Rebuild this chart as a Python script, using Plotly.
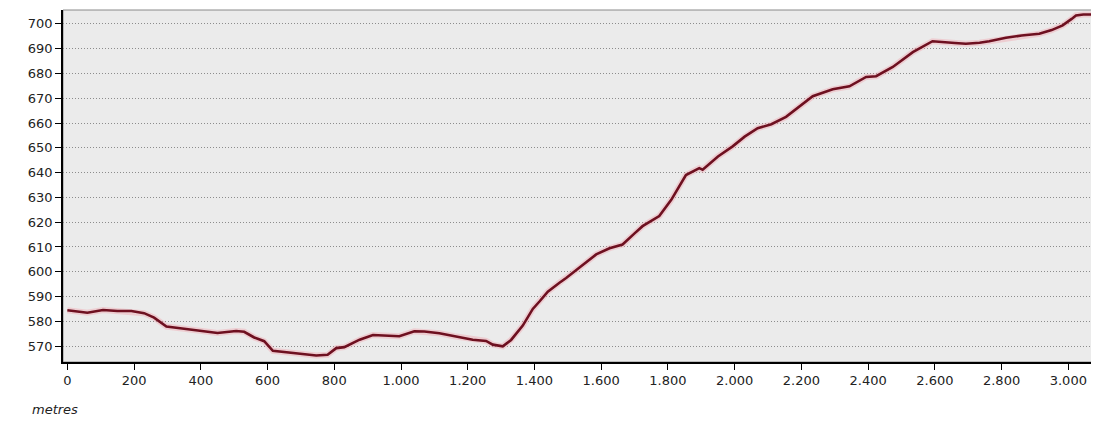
import plotly.graph_objects as go

# distance along route (metres) and elevation (m)
distance = [0, 30, 60, 107, 150, 192, 230, 260, 297, 350, 416, 450, 506, 530, 560, 590,
            616, 650, 700, 746, 780, 806, 830, 876, 916, 960, 995, 1040, 1070, 1115, 1160,
            1215, 1255, 1275, 1305, 1330, 1365, 1395, 1415, 1440, 1475, 1495, 1535, 1585,
            1625, 1664, 1700, 1724, 1774, 1810, 1854, 1894, 1904, 1950, 1994, 2030, 2069,
            2110, 2154, 2194, 2234, 2294, 2344, 2394, 2424, 2474, 2534, 2593, 2623, 2660,
            2693, 2734, 2763, 2813, 2860, 2913, 2950, 2983, 3010, 3023, 3045, 3068]
elevation = [584.5, 584.0, 583.5, 584.6, 584.2, 584.2, 583.3, 581.5, 577.9, 577.0, 575.7, 575.3,
             576.1, 575.8, 573.5, 572.0, 568.1, 567.6, 566.8, 566.2, 566.5, 569.2, 569.6, 572.6,
             574.5, 574.3, 574.0, 576.0, 575.9, 575.2, 574.0, 572.6, 572.1, 570.6, 569.9, 572.5,
             578.3, 585.0, 588.0, 592.0, 595.6, 597.5, 601.7, 607.0, 609.5, 611.0, 615.5, 618.4,
             622.5, 629.0, 639.0, 641.8, 641.2, 646.5, 650.6, 654.5, 657.9, 659.5, 662.5, 666.5,
             670.8, 673.6, 674.8, 678.6, 678.9, 682.6, 688.6, 693.0, 692.8, 692.3, 692.0, 692.4,
             693.0, 694.4, 695.3, 696.0, 697.5, 699.4, 702.0, 703.4, 703.8, 703.8]

x_tickvals = [0, 200, 400, 600, 800, 1000, 1200, 1400, 1600, 1800, 2000, 2200, 2400, 2600, 2800, 3000]
x_ticktext = ["0", "200", "400", "600", "800", "1.000", "1.200", "1.400", "1.600", "1.800",
              "2.000", "2.200", "2.400", "2.600", "2.800", "3.000"]
y_tickvals = [570, 580, 590, 600, 610, 620, 630, 640, 650, 660, 670, 680, 690, 700]

fig = go.Figure()
# soft halo under the line
fig.add_trace(go.Scatter(x=distance, y=elevation, mode="lines",
                         line=dict(color="rgba(240,150,160,0.35)", width=6),
                         hoverinfo="skip", showlegend=False))
fig.add_trace(go.Scatter(x=distance, y=elevation, mode="lines",
                         line=dict(color="#6E1020", width=2.6),
                         showlegend=False))

# the page body has an 8px margin, so the figure is sized to fill the rest of the window
fig.update_layout(
    width=1091, height=413,
    margin=dict(l=55, r=7, t=2, b=59),
    paper_bgcolor="white",
    plot_bgcolor="#EBEBEB",
    font=dict(family="DejaVu Sans, Arial, sans-serif", size=13, color="#222222"),
    xaxis=dict(range=[-13, 3071], tickvals=x_tickvals, ticktext=x_ticktext, automargin=False,
               showgrid=False, zeroline=False, showline=True, linecolor="black", linewidth=1.5,
               ticks="outside", ticklen=6, tickcolor="black", tickwidth=1),
    yaxis=dict(range=[563.6, 705.6], tickvals=y_tickvals, automargin=False,
               showgrid=True, gridcolor="#8C8C8C", griddash="1px,2px", gridwidth=1,
               zeroline=False, showline=True, linecolor="black", linewidth=1.5,
               ticks="outside", ticklen=6, tickcolor="black", tickwidth=1),
    shapes=[dict(type="rect", xref="paper", yref="paper", x0=0, x1=1, y0=0, y1=1,
                 line=dict(color="#8A8A8A", width=1), fillcolor="rgba(0,0,0,0)", layer="below")],
    annotations=[dict(text="<i>metres</i>", xref="paper", yref="paper", x=-0.032, y=-0.134,
                      xanchor="left", yanchor="middle", showarrow=False,
                      font=dict(size=13, color="#222222"))],
)

fig.write_html("out.html")
